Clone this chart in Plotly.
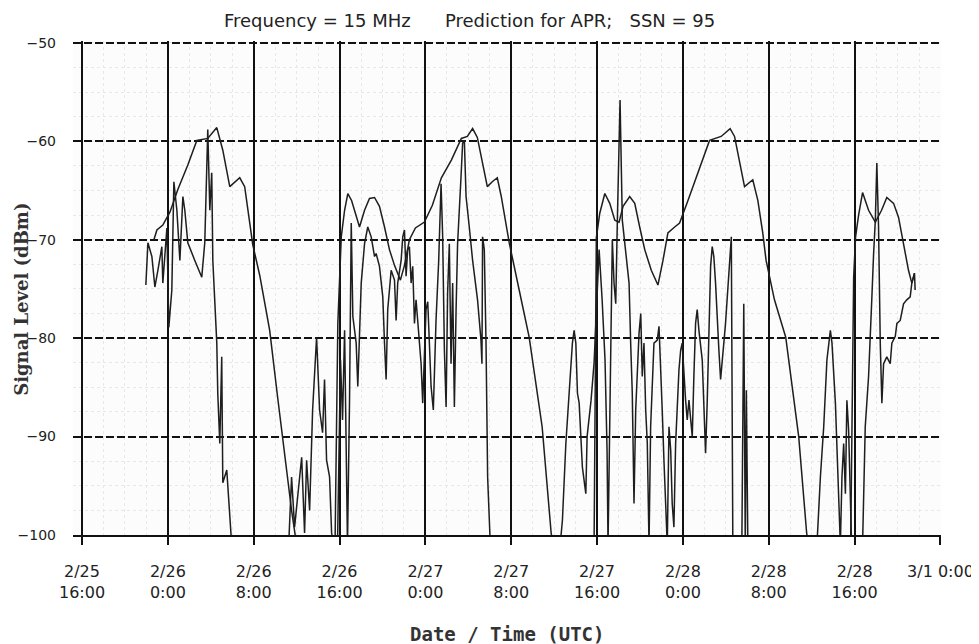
import pandas as pd
import plotly.graph_objects as go

# ---- data (hours after 2/25 16:00 UTC, signal level dBm) ----
pred_hours = [6.70, 6.98, 7.53, 8.19, 8.93, 9.86, 10.70, 11.72, 12.56, 13.12, 13.77, 14.70, 15.16, 15.63, 15.91,
              16.56, 17.49, 18.23, 18.88, 19.53, 20.00, 23.58,
              23.84, 24.00, 24.16, 24.47, 24.77, 25.12, 25.55, 25.86, 26.33, 26.79, 27.26, 27.72, 28.19, 28.65,
              29.12, 29.67, 30.05, 30.51, 31.07, 31.91, 32.65, 33.49, 34.42, 35.35, 35.91, 36.40, 36.84, 37.30,
              37.77, 38.23, 38.70, 39.07, 39.53, 39.81, 40.74, 41.67, 42.88, 43.72, 43.91, 47.72,
              47.86, 47.93, 48.25, 48.72, 49.18, 49.65, 50.05, 50.42, 51.04, 51.51, 51.97, 52.44, 53.05, 53.67,
              54.14, 54.60, 55.23, 55.69, 56.47, 57.40, 58.48, 59.56, 60.40, 60.81, 61.27, 61.74, 62.51, 62.98,
              63.44, 63.75, 64.53, 65.58, 66.79, 67.53, 67.72, 71.63,
              71.77, 71.91, 72.09, 72.37, 72.74, 73.30, 73.93, 74.51, 75.00, 75.63, 76.09, 76.56, 77.02, 77.33, 77.58]
pred_dbm = [-70.0, -69.0, -68.5, -67.2, -64.9, -62.4, -59.9, -59.7, -58.6, -60.9, -64.6, -63.7, -64.6, -68.0, -70.5,
            -73.6, -79.2, -86.0, -91.9, -97.5, -101, -101,
            -78.5, -73.7, -69.7, -67.0, -65.3, -66.0, -67.6, -68.7, -67.0, -65.8, -65.7, -66.6, -68.7, -71.0,
            -72.6, -74.1, -72.6, -70.0, -68.8, -68.2, -66.5, -63.7, -61.9, -59.7, -59.5, -58.7, -59.6, -61.9,
            -64.6, -64.1, -63.7, -65.6, -68.5, -70.3, -75.1, -79.9, -89.0, -99.8, -101, -101,
            -80.0, -69.8, -67.3, -65.3, -66.3, -68.0, -68.2, -66.6, -65.6, -66.3, -68.7, -71.0, -73.1, -74.6,
            -72.1, -69.3, -68.7, -68.3, -66.0, -63.2, -59.9, -59.5, -58.7, -59.5, -61.9, -64.6, -63.9, -66.0,
            -69.3, -72.1, -76.1, -79.9, -90.0, -99.8, -101, -101,
            -87.5, -73.8, -69.7, -67.5, -65.2, -67.0, -68.2, -67.0, -65.7, -66.3, -67.7, -70.3, -73.1, -74.4, -73.4]

meas_hours = [5.95, 6.14, 6.51, 6.79, 7.07, 7.44, 7.53, 7.91, 8.09, 8.37, 8.56, 8.84, 9.12, 9.40, 9.58, 9.86,
              10.51, 11.16, 11.44, 11.72, 11.91, 12.09, 12.19, 12.56, 12.65, 12.84, 13.02, 13.12, 13.49, 13.77,
              13.95, 19.26,
              19.53, 19.81, 20.28, 20.47, 20.74, 20.93, 21.21, 21.49, 21.86, 22.14, 22.42, 22.60, 22.79, 23.07,
              23.26, 23.44, 23.81, 24.09, 24.28, 24.47, 24.74, 24.93, 25.09, 25.24, 25.55, 25.70, 26.02, 26.33,
              26.63, 26.95, 27.26, 27.41, 27.72, 28.03, 28.19, 28.34, 28.49, 28.81, 29.12, 29.27, 29.42, 29.74,
              29.89, 30.05, 30.20, 30.35, 30.51, 30.67, 30.82, 30.98, 31.13, 31.44, 31.60, 31.75, 32.06, 32.22,
              32.37, 32.53, 32.74, 32.99, 33.24, 33.46, 33.61, 33.77, 33.93, 34.07, 34.23, 34.39, 34.54, 34.70,
              34.86, 35.00, 35.32, 35.47, 35.63, 35.79, 36.09, 36.40, 36.86, 37.18, 37.27, 37.33, 37.49, 37.65,
              37.80, 37.95, 38.05, 44.56,
              44.77, 45.09, 45.40, 45.70, 45.86, 46.02, 46.17, 46.33, 46.63, 46.95, 47.07, 47.44, 47.72, 48.00,
              48.19, 48.47, 48.74, 48.93, 49.02, 49.21, 49.42, 49.58, 49.74, 49.89, 50.05, 50.14, 50.35, 50.67,
              50.98, 51.13, 51.28, 51.44, 51.60, 51.91, 52.07, 52.21, 52.37, 52.53, 52.68, 52.84, 52.99, 53.30,
              53.61, 53.77, 53.93, 54.07, 54.23, 54.39, 54.54, 54.70, 54.86, 55.00, 55.16, 55.32, 55.47, 55.63,
              55.79, 55.93, 56.25, 56.40, 56.56, 56.87, 57.02, 57.18, 57.33, 57.49, 57.80, 57.95, 58.11, 58.26,
              58.42, 58.58, 58.73, 58.88, 59.04, 59.19, 59.35, 59.51, 59.66, 59.81, 59.97, 60.12,
              60.28, 60.51, 60.65, 61.49, 61.67, 61.81, 61.91, 62.05, 68.49,
              68.81, 69.12, 69.42, 69.74, 69.89, 70.21, 70.35, 70.51, 70.67, 70.82, 70.98, 71.14, 71.28, 71.44,
              71.60, 71.72, 72.74,
              72.99, 73.30, 73.46, 73.61, 73.77, 73.93, 74.07, 74.23, 74.39, 74.54, 74.70, 75.00, 75.32, 75.47,
              75.79, 75.94, 76.25, 76.56, 76.86, 77.18, 77.33, 77.58, 77.64]
meas_dbm = [-74.6, -70.3, -71.7, -74.8, -73.1, -70.7, -74.4, -68.8, -78.9, -75.1, -64.1, -67.0, -72.1, -65.6, -67.0, -70.3,
            -72.1, -73.8, -70.3, -58.8, -67.0, -63.2, -72.1, -80.5, -85.6, -90.7, -81.9, -94.7, -93.4, -97.5,
            -101, -101,
            -94.1, -99.2, -93.7, -92.1, -99.8, -92.4, -97.5, -87.3, -79.9, -87.3, -89.6, -84.2, -92.4, -94.1,
            -99.8, -101, -101, -82.2, -88.3, -79.2, -101, -86.3, -68.3, -77.8, -80.5, -84.9, -74.4, -70.4,
            -68.7, -69.7, -71.7, -71.4, -72.7, -75.8, -80.5, -84.2, -77.1, -73.1, -74.1, -78.2, -74.4, -72.1,
            -69.7, -69.0, -73.7, -71.0, -70.7, -74.4, -72.7, -78.5, -76.1, -80.2, -82.6, -86.6, -77.1, -76.3,
            -80.5, -84.9, -87.3, -78.2, -72.1, -64.3, -69.7, -81.2, -87.0, -75.4, -70.4, -82.6, -74.4, -87.0,
            -77.1, -70.4, -63.6, -60.2, -59.9, -65.6, -68.7, -72.1, -76.1, -80.2, -82.6, -69.7, -71.0, -80.5,
            -94.1, -99.8, -101, -101,
            -98.5, -90.7, -85.6, -80.5, -79.2, -80.5, -85.6, -86.6, -93.1, -95.8, -90.0, -86.3, -82.5, -75.1,
            -71.0, -76.1, -82.2, -91.4, -101, -86.3, -70.0, -74.4, -76.5, -68.0, -60.9, -55.8, -68.0, -71.0,
            -74.4, -80.5, -85.6, -96.8, -87.3, -79.5, -77.5, -83.9, -80.5, -87.3, -90.7, -101, -89.0, -80.5,
            -80.2, -78.8, -82.6, -87.3, -92.4, -98.1, -101, -89.0, -91.4, -96.8, -99.2, -90.7, -86.3, -83.2,
            -81.2, -80.5, -86.3, -88.3, -86.3, -90.0, -83.9, -78.5, -77.1, -79.2, -82.2, -87.3, -91.7, -86.6,
            -78.8, -72.7, -70.7, -71.7, -74.4, -77.1, -81.2, -84.2, -82.6, -80.5, -78.5, -75.8,
            -73.4, -69.7, -101, -101, -76.5, -101, -85.3, -101, -101,
            -94.1, -89.0, -82.2, -79.2, -80.5, -86.6, -90.7, -95.8, -101, -94.1, -90.7, -95.8, -86.3, -89.3,
            -98.5, -101, -101,
            -89.0, -83.9, -78.5, -75.8, -71.4, -68.0, -62.2, -68.7, -80.5, -86.6, -82.6, -81.9, -82.6, -80.5,
            -79.8, -78.5, -78.2, -76.5, -76.1, -75.8, -74.4, -73.4, -75.1]

tick_hours = [0, 8, 16, 24, 32, 40, 48, 56, 64, 72, 80]
tick_text = ["2/25<br>16:00", "2/26<br>0:00", "2/26<br>8:00", "2/26<br>16:00", "2/27<br>0:00",
             "2/27<br>8:00", "2/27<br>16:00", "2/28<br>0:00", "2/28<br>8:00", "2/28<br>16:00", "3/1 0:00"]
y_ticks = [-100, -90, -80, -70, -60, -50]

base = pd.Timestamp("2001-02-25 16:00")
def to_time(hours):
    return [base + pd.Timedelta(hours=h) for h in hours]

fig = go.Figure()
line_style = dict(color="#1e1e1e", width=1.5)
fig.add_trace(go.Scatter(x=to_time(meas_hours), y=meas_dbm, mode="lines", line=line_style,
                         name="Measured", showlegend=False))
fig.add_trace(go.Scatter(x=to_time(pred_hours), y=pred_dbm, mode="lines", line=line_style,
                         name="Predicted", showlegend=False))

fig.update_layout(
    width=979, height=644,
    margin=dict(l=65, r=46, t=33, b=117),
    paper_bgcolor="white", plot_bgcolor="#fcfcfc",
    font=dict(family="DejaVu Sans", size=14, color="#222"),
    annotations=[
        dict(text="Frequency = 15 MHz&nbsp;&nbsp;&nbsp;&nbsp;&nbsp;&nbsp;Prediction for APR;&nbsp;&nbsp;&nbsp;SSN = 95",
             xref="paper", yref="paper", x=0.457, y=1.0, yshift=21, xanchor="center", yanchor="middle",
             showarrow=False, font=dict(family="DejaVu Sans", size=18, color="#222")),
        dict(text="<b>Date / Time (UTC)</b>", xref="paper", yref="paper", x=0.5, y=0, yshift=-99,
             xanchor="center", yanchor="middle", showarrow=False,
             font=dict(family="DejaVu Sans Mono", size=19, color="#333")),
        dict(text="<b>Signal Level (dBm)</b>", xref="paper", yref="paper", x=0, xshift=-51, y=0.476,
             xanchor="center", yanchor="middle", textangle=-90, showarrow=False,
             font=dict(family="DejaVu Serif", size=18, color="#333")),
    ],
)

fig.update_xaxes(
    range=[base - pd.Timedelta(hours=0.84), base + pd.Timedelta(hours=80.05)],
    tickvals=to_time(tick_hours), ticktext=tick_text,
    tickfont=dict(family="DejaVu Sans", size=16, color="#222"),
    showgrid=True, gridcolor="#111", gridwidth=1.6,
    ticks="outside", ticklen=8, tickcolor="#111", tickwidth=1.6,
    ticklabelstandoff=13, automargin=False,
    showline=True, linecolor="#111", linewidth=1.6, mirror=False,
    zeroline=False,
    minor=dict(dtick=2 * 3600 * 1000, showgrid=True, gridcolor="#e8e8e8", griddash="dot", gridwidth=1),
)
fig.update_yaxes(
    range=[-100, -49.8], tickvals=y_ticks,
    tickfont=dict(family="DejaVu Sans", size=14, color="#222"),
    showgrid=True, gridcolor="#111", gridwidth=1.6, griddash="8px,3px",
    ticks="", ticklabelstandoff=16, automargin=False,
    showline=False, zeroline=False,
    minor=dict(dtick=2.5, showgrid=True, gridcolor="#e8e8e8", griddash="dot", gridwidth=1),
)

fig.write_html("out.html")
